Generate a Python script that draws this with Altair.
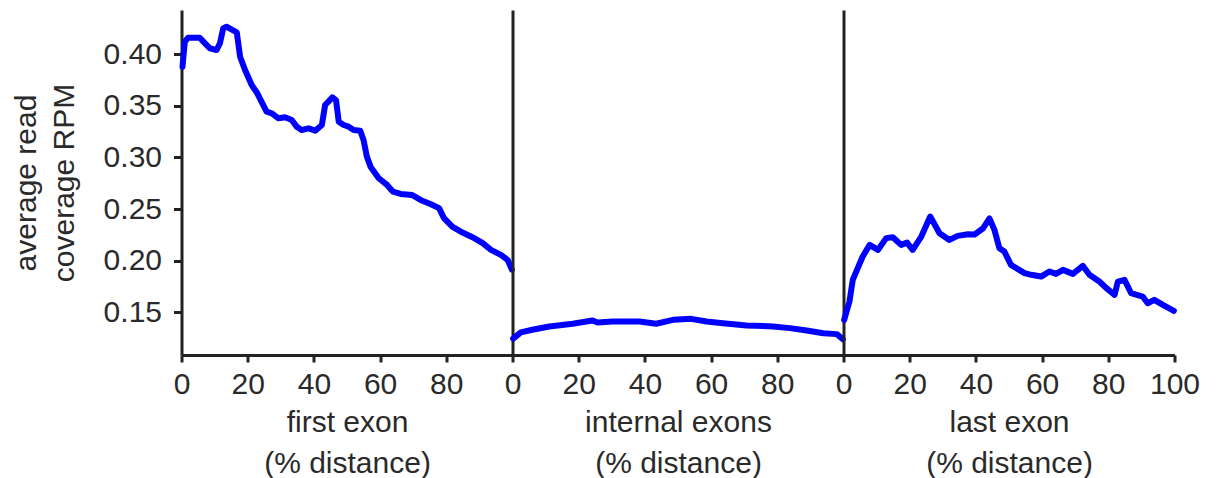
import altair as alt
import pandas as pd

# ---- data ----
first_x = [0.3, 1.0, 2.0, 4.5, 5.5, 7.1, 8.6, 10.6, 11.6, 12.6, 13.6, 16.7, 17.7, 19.2, 21.2, 22.9,
           25.7, 27.3, 29.3, 31.3, 33.3, 34.8, 36.3, 38.4, 40.4, 42.4, 43.4, 44.4, 45.6, 46.7, 47.5,
           49.0, 50.5, 52.0, 54.0, 55.0, 56.0, 57.1, 59.6, 62.1, 63.9, 66.2, 69.7, 72.2, 75.2, 77.8,
           79.3, 81.8, 84.9, 87.9, 91.0, 93.5, 96.5, 98.5, 99.8]
first_y = [0.3877, 0.4119, 0.4158, 0.4158, 0.4158, 0.4103, 0.4055, 0.4039, 0.4103, 0.4248, 0.4264,
           0.4210, 0.3974, 0.3845, 0.3700, 0.3620, 0.3442, 0.3426, 0.3378, 0.3388, 0.3362, 0.3297,
           0.3265, 0.3281, 0.3258, 0.3313, 0.3507, 0.3539, 0.3581, 0.3552, 0.3345, 0.3313, 0.3297,
           0.3265, 0.3258, 0.3168, 0.3007, 0.2910, 0.2798, 0.2733, 0.2668, 0.2646, 0.2636, 0.2588,
           0.2549, 0.2508, 0.2411, 0.2330, 0.2272, 0.2227, 0.2169, 0.2104, 0.2056, 0.2008, 0.1915]

internal_x = [0.2, 2.5, 6.0, 11.1, 18.2, 24.2, 25.7, 30.3, 38.4, 43.4, 48.5, 54.0, 58.6, 63.6, 70.7,
              78.8, 83.8, 88.9, 93.9, 98.0, 99.8]
internal_y = [0.1245, 0.1306, 0.1331, 0.1363, 0.1389, 0.1421, 0.1402, 0.1411, 0.1411, 0.1389, 0.1427,
              0.1437, 0.1411, 0.1395, 0.1373, 0.1363, 0.1347, 0.1324, 0.1298, 0.1289, 0.1240]

last_x = [0.2, 1.8, 2.8, 4.3, 5.8, 7.9, 10.4, 12.9, 14.9, 17.4, 19.2, 20.9, 23.5, 26.2, 29.0, 32.0,
          34.5, 37.6, 39.6, 42.1, 44.1, 45.6, 47.1, 48.6, 50.6, 52.7, 54.7, 56.7, 59.7, 62.2, 64.2,
          66.3, 69.3, 72.3, 74.3, 77.3, 79.8, 81.9, 82.9, 84.9, 86.9, 90.4, 91.9, 93.9, 96.5, 99.8]
last_y = [0.1427, 0.1605, 0.1814, 0.1928, 0.2040, 0.2153, 0.2104, 0.2218, 0.2227, 0.2153, 0.2175,
          0.2104, 0.2233, 0.2427, 0.2266, 0.2201, 0.2240, 0.2256, 0.2253, 0.2311, 0.2408, 0.2298,
          0.2121, 0.2088, 0.1959, 0.1918, 0.1879, 0.1863, 0.1846, 0.1895, 0.1872, 0.1911, 0.1872,
          0.1950, 0.1863, 0.1798, 0.1724, 0.1669, 0.1798, 0.1814, 0.1685, 0.1653, 0.1588, 0.1621,
          0.1572, 0.1515]

panel_titles = [["first exon", "(% distance)"], ["internal exons", "(% distance)"], ["last exon", "(% distance)"]]
x_ticks_inner = [0, 20, 40, 60, 80]
x_ticks_last = [0, 20, 40, 60, 80, 100]
y_ticks = [0.15, 0.20, 0.25, 0.30, 0.35, 0.40]
y_domain = [0.1087, 0.4426]
y_title = ["average read", "coverage RPM"]

FONT = "Liberation Sans"
AX = "#222222"
W, H = 331, 345

def panel(xs, ys, title, xticks, first):
    df = pd.DataFrame({"x": xs, "y": ys})
    xaxis = alt.Axis(values=xticks, title=title, grid=False, format="d")
    if first:
        yaxis = alt.Axis(values=y_ticks, format=".2f", title=y_title, grid=False,
                         tickSize=8, labelPadding=12, titlePadding=24)
    else:
        yaxis = alt.Axis(values=y_ticks, labels=False, ticks=False, title=None, grid=False)
    return alt.Chart(df).mark_line(color="#0000FF", strokeWidth=6, strokeJoin="round",
                                   strokeCap="round").encode(
        x=alt.X("x:Q", scale=alt.Scale(domain=[0, 100], nice=False), axis=xaxis),
        y=alt.Y("y:Q", scale=alt.Scale(domain=y_domain, nice=False, zero=False), axis=yaxis),
    ).properties(width=W, height=H)

p1 = panel(first_x, first_y, panel_titles[0], x_ticks_inner, True)
p2 = panel(internal_x, internal_y, panel_titles[1], x_ticks_inner, False)
p3 = panel(last_x, last_y, panel_titles[2], x_ticks_last, False)

chart = alt.hconcat(p1, p2, p3, spacing=0, bounds="flush").properties(
    padding={"left": 10.5, "top": 10, "right": 5, "bottom": 0}
).configure_view(stroke=None).configure_axis(
    labelFont=FONT, titleFont=FONT, labelFontSize=30, titleFontSize=30,
    titleFontWeight="normal", labelColor="#2a2a2a", titleColor="#2a2a2a",
    domainColor=AX, tickColor=AX, domainWidth=3, tickWidth=3,
    titleLineHeight=38,
).configure_axisX(
    tickSize=7, labelPadding=7, titlePadding=8, labelFlush=False, titleLineHeight=41,
)

chart.save("out.html", embed_options={"renderer": "svg", "actions": False})
